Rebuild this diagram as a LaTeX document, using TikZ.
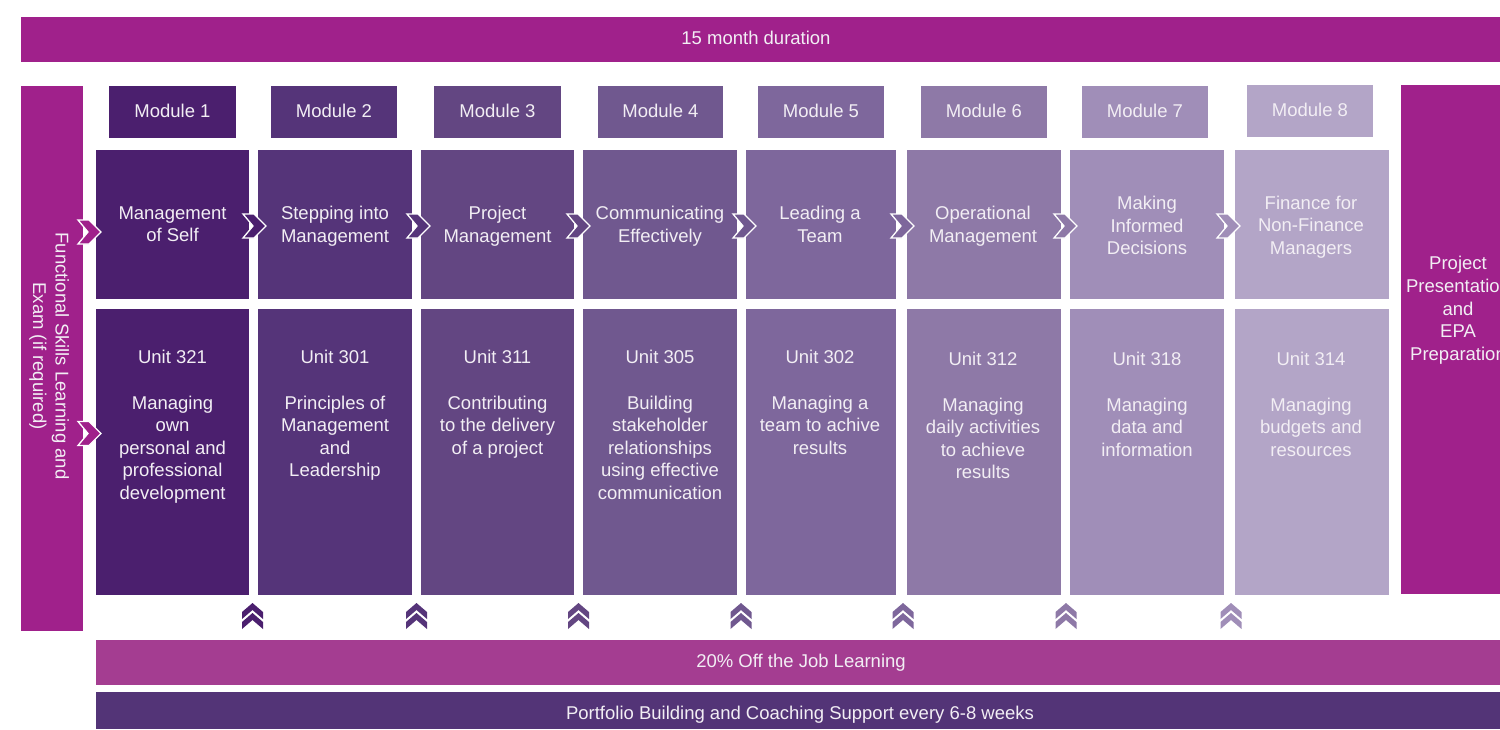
\documentclass[tikz,border=0pt]{standalone}
\usepackage{fontspec}
\setmainfont{Liberation Sans}
\definecolor{mag}{HTML}{A0218B}
\definecolor{col1}{HTML}{4B1F6E}
\definecolor{col2}{HTML}{553479}
\definecolor{col3}{HTML}{634682}
\definecolor{col4}{HTML}{70588F}
\definecolor{col5}{HTML}{7E679C}
\definecolor{col6}{HTML}{8E79A7}
\definecolor{col7}{HTML}{A08EB8}
\definecolor{col8}{HTML}{B3A5C7}
\definecolor{otj}{HTML}{A43D91}
\definecolor{pbc}{HTML}{533477}
\definecolor{txtc}{HTML}{F2EEF4}
\tikzset{
  box/.style={rectangle, inner sep=0pt, outer sep=0pt, draw=none, anchor=north west},
  txt/.style={text=txtc, font=\fontsize{18.5}{22.6}\selectfont, align=center, inner sep=0pt, outer sep=0pt},
  pics/rchev/.style={code={\fill[#1, draw=white, line width=1.3pt] (0,-12) -- (11,-12) -- (23,0) -- (11,12) -- (0,12) -- (10,0) -- cycle;}},
  pics/uchev/.style={code={
    \fill[#1] (0,0) -- (10.5,9) -- (10.5,16) -- (0,7) -- (-10.5,16) -- (-10.5,9) -- cycle;
    \fill[#1] (0,10) -- (10.5,19) -- (10.5,26) -- (0,17) -- (-10.5,26) -- (-10.5,19) -- cycle;}}
}
\begin{document}
\begin{tikzpicture}[x=1pt,y=-1pt]
\path[use as bounding box] (0,0) rectangle (1500,729);
\clip (0,0) rectangle (1500,729);
% top bar
\node[box, fill=mag, minimum width=1479pt, minimum height=45pt] (dur) at (21,17) {};
\node[txt, anchor=base] (durt) at (756,44.6) {15 month duration};
% left bar
\node[box, fill=mag, minimum width=62pt, minimum height=545pt] (fs) at (21,86) {};
\node[txt, rotate=-90, anchor=north] (fst) at (69.1,356) {Functional Skills Learning and\\Exam (if required)};
% right bar
\node[box, fill=mag, minimum width=99pt, minimum height=509pt] (epa) at (1401,85) {};
\node[txt, anchor=north] (epat) at (1458,256.4) {Project\\Presentation\\and\\EPA\\Preparation};
% columns
\foreach \i/\xl/\xr/\mxl/\mxr/\my in {
 1/96/249/109/236/86,
 2/258/412/271/397/86,
 3/421/574/434/561/86,
 4/583/737/598/723/86,
 5/746/896/758/884/86,
 6/907/1061/921/1047/86,
 7/1070/1224/1082/1208/86,
 8/1235/1389/1247/1373/85}
{
 \node[box, fill=col\i, minimum width={\mxr-\mxl}, minimum height=52pt] (m\i) at (\mxl,\my) {};
 \node[txt, anchor=base] (mt\i) at ({(\mxl+\mxr)/2},{\my+31.6}) {Module \i};
 \node[box, fill=col\i, minimum width={\xr-\xl}, minimum height=149pt] (t\i) at (\xl,150) {};
 \node[box, fill=col\i, minimum width={\xr-\xl}, minimum height=286pt] (u\i) at (\xl,309) {};
}
% upper texts
\node[txt, anchor=north] (tt1) at (172.5,206.4) {Management\\of Self};
\node[txt, anchor=north] (tt2) at (335,206.4) {Stepping into\\Management};
\node[txt, anchor=north] (tt3) at (497.5,206.4) {Project\\Management};
\node[txt, anchor=north] (tt4) at (660,206.4) {Communicating\\Effectively};
\node[txt, anchor=north] (tt5) at (820,206.4) {Leading a\\Team};
\node[txt, anchor=north] (tt6) at (983,206.4) {Operational\\Management};
\node[txt, anchor=north] (tt7) at (1147,196.2) {Making\\Informed\\Decisions};
\node[txt, anchor=north] (tt8) at (1311,195.6) {Finance for\\Non-Finance\\Managers};
% lower texts
\node[txt, anchor=north] (ut1) at (172.5,350.4) {Unit 321\\[22.6pt]Managing\\own\\personal and\\professional\\development};
\node[txt, anchor=north] (ut2) at (335,350.4) {Unit 301\\[22.6pt]Principles of\\Management\\and\\Leadership};
\node[txt, anchor=north] (ut3) at (497.5,350.4) {Unit 311\\[22.6pt]Contributing\\to the delivery\\of a project};
\node[txt, anchor=north] (ut4) at (660,350.4) {Unit 305\\[22.6pt]Building\\stakeholder\\relationships\\using effective\\communication};
\node[txt, anchor=north] (ut5) at (820,350.4) {Unit 302\\[22.6pt]Managing a\\team to achive\\results};
\node[txt, anchor=north] (ut6) at (983,352.4) {Unit 312\\[22.6pt]Managing\\daily activities\\to achieve\\results};
\node[txt, anchor=north] (ut7) at (1147,352.4) {Unit 318\\[22.6pt]Managing\\data and\\information};
\node[txt, anchor=north] (ut8) at (1311,352.4) {Unit 314\\[22.6pt]Managing\\budgets and\\resources};
% right chevrons
\pic at (78,232) {rchev=mag};
\pic at (78,433.5) {rchev=mag};
\pic at (243,226) {rchev=col1};
\pic at (407,226) {rchev=col2};
\pic at (567,226) {rchev=col3};
\pic at (733,226) {rchev=col4};
\pic at (891,226) {rchev=col5};
\pic at (1054,226) {rchev=col6};
\pic at (1217,226) {rchev=col7};
% up chevrons
\pic at (252.5,603) {uchev=col1};
\pic at (416.5,603) {uchev=col2};
\pic at (578.5,603) {uchev=col3};
\pic at (741,603) {uchev=col4};
\pic at (903,603) {uchev=col5};
\pic at (1066,603) {uchev=col6};
\pic at (1231,603) {uchev=col7};
% bottom bars
\node[box, fill=otj, minimum width=1404pt, minimum height=45pt] (otjb) at (96,640) {};
\node[txt, anchor=base] (otjt) at (801,667.6) {20\% Off the Job Learning};
\node[box, fill=pbc, minimum width=1404pt, minimum height=37pt] (pbb) at (96,692) {};
\node[txt, anchor=base] (pbt) at (800,719.6) {Portfolio Building and Coaching Support every 6-8 weeks};
\end{tikzpicture}
\end{document}
